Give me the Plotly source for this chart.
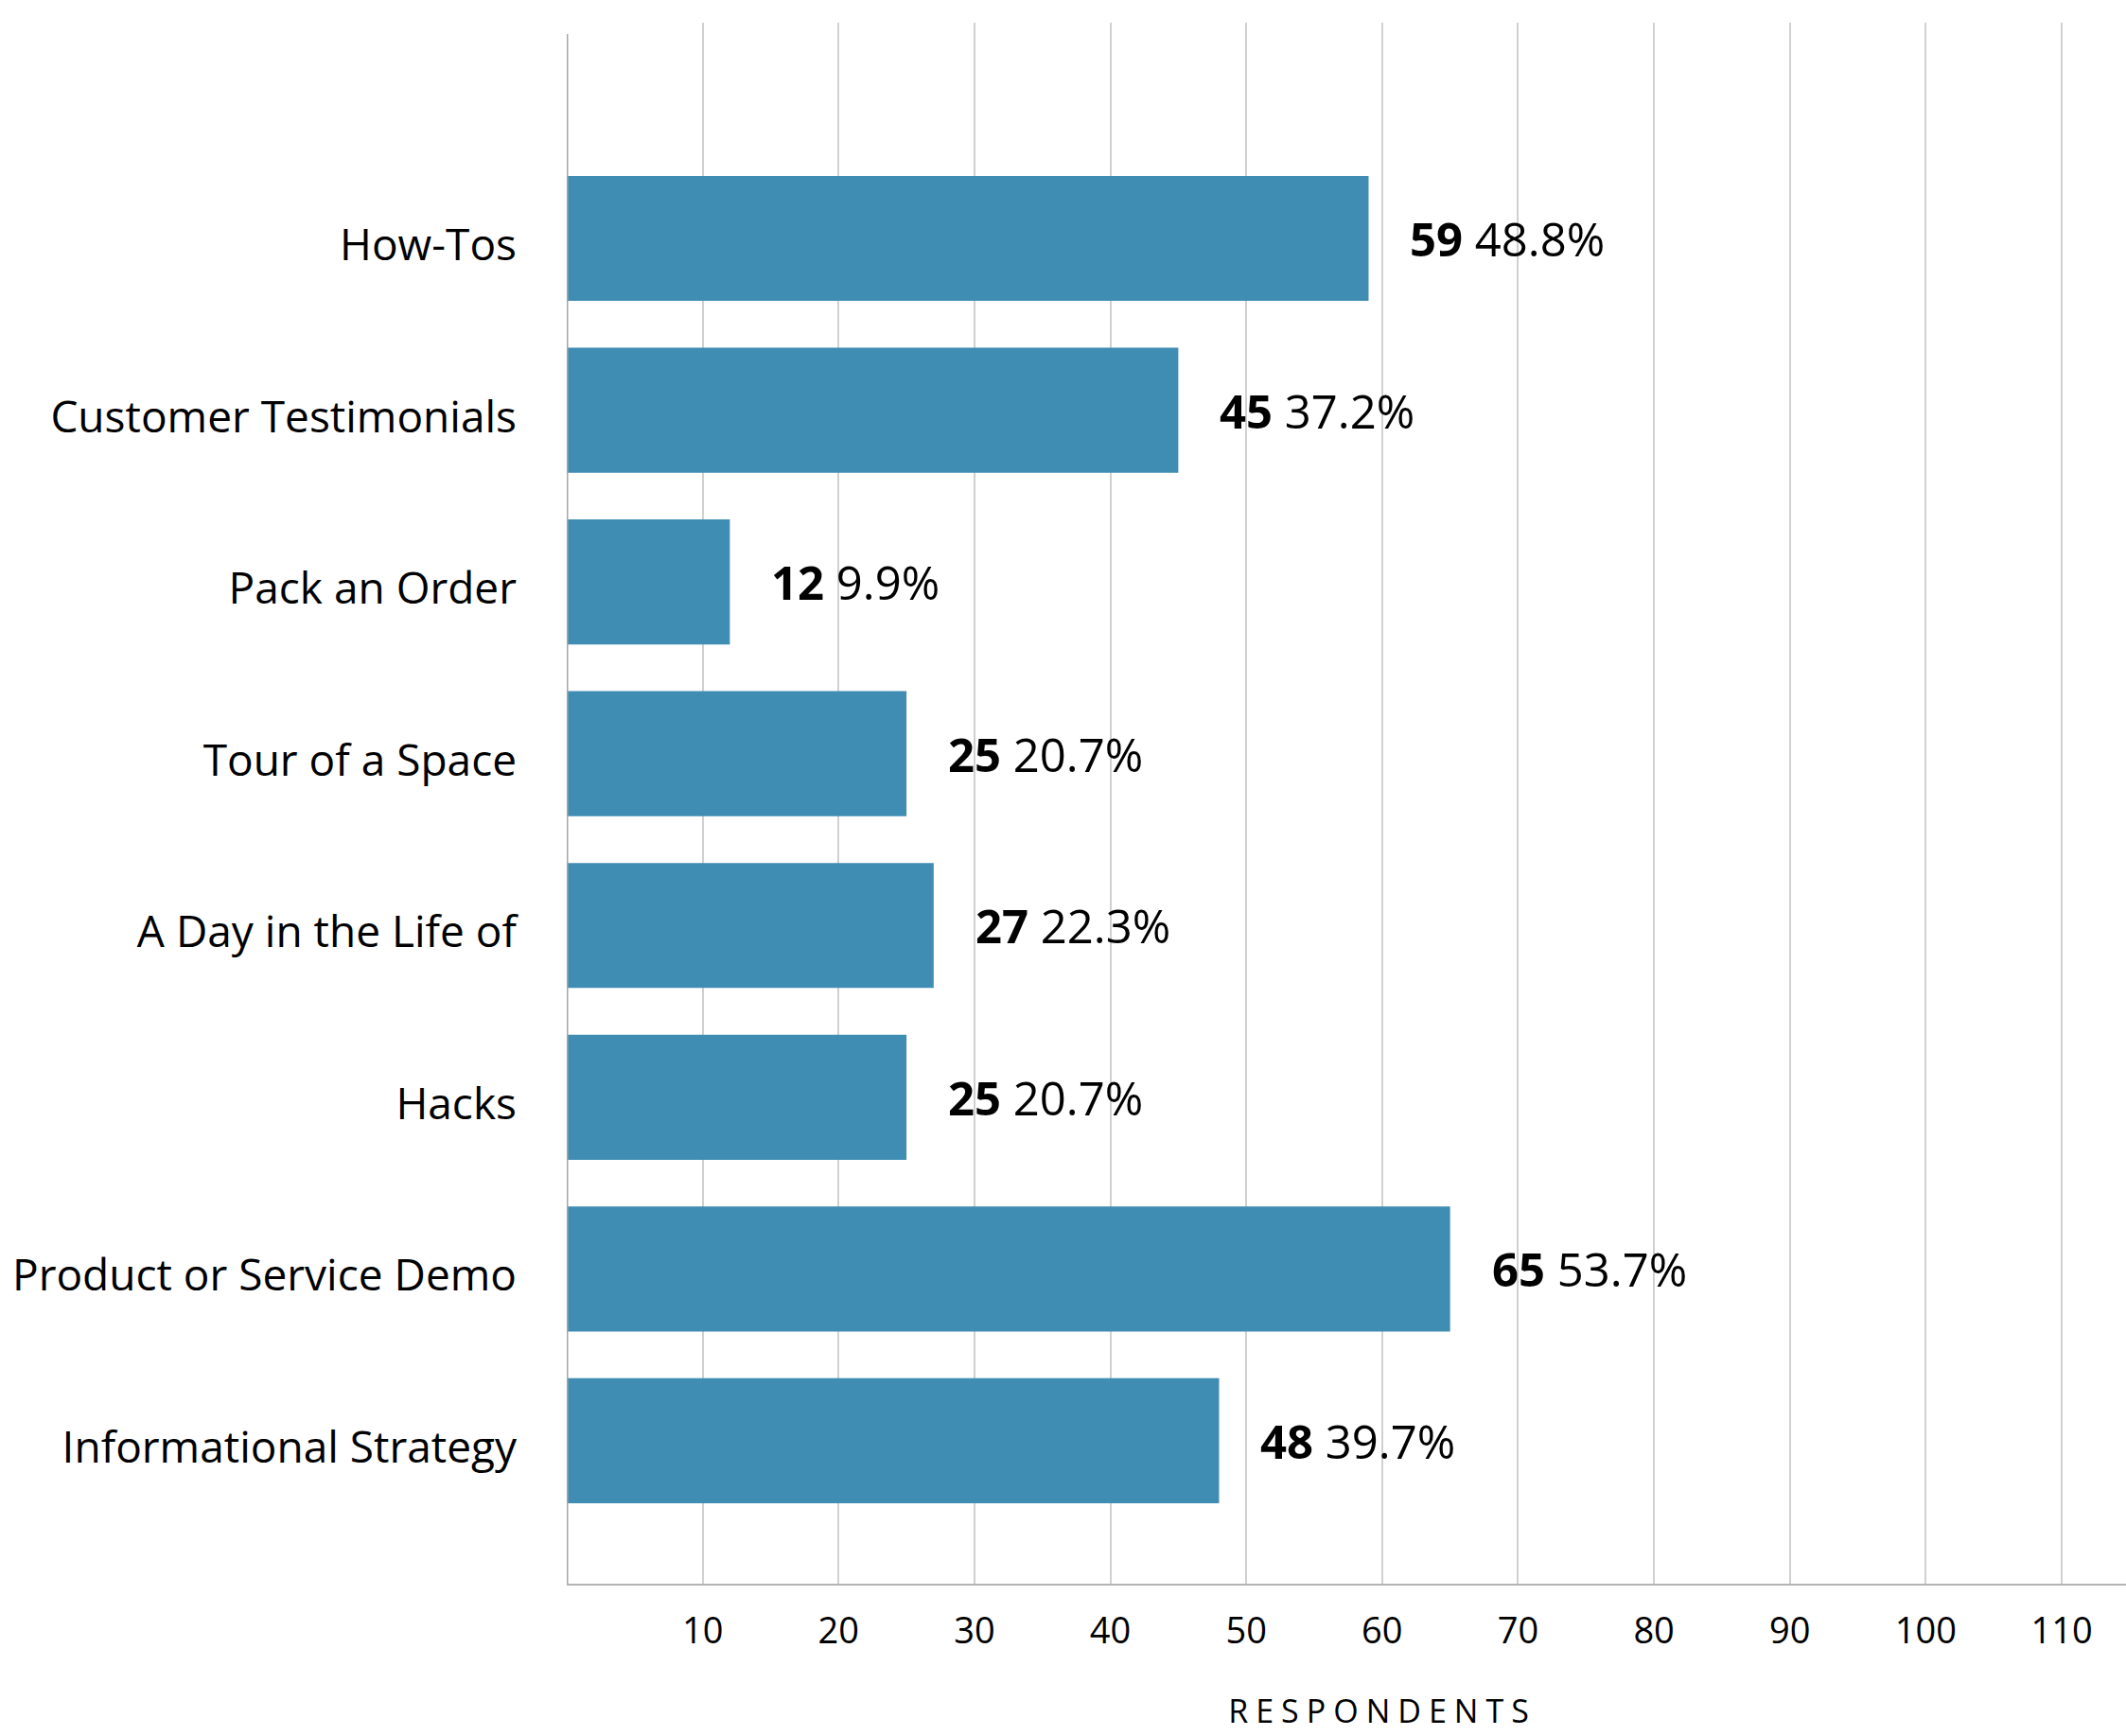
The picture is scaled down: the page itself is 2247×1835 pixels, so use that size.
import plotly.graph_objects as go

# Survey: which types of video content respondents produce
categories = [
    "How-Tos",
    "Customer Testimonials",
    "Pack an Order",
    "Tour of a Space",
    "A Day in the Life of",
    "Hacks",
    "Product or Service Demo",
    "Informational Strategy",
]
respondents = [59, 45, 12, 25, 27, 25, 65, 48]
percent_labels = ["48.8%", "37.2%", "9.9%", "20.7%", "22.3%", "20.7%", "53.7%", "39.7%"]
tick_values = [10, 20, 30, 40, 50, 60, 70, 80, 90, 100, 110]
axis_title = "RESPONDENTS"

BAR_COLOR = "#408DB3"
FONT = "Open Sans"

W, H = 2247, 1835
M_L, M_R, M_T, M_B = 599, 0, 24, 161

fig = go.Figure(
    go.Bar(
        x=respondents,
        y=categories,
        orientation="h",
        marker=dict(color=BAR_COLOR, line=dict(width=0)),
        hoverinfo="skip",
    )
)

# value labels: bold count followed by share
for cat, n, pct in zip(categories, respondents, percent_labels):
    fig.add_annotation(
        x=n,
        y=cat,
        xref="x",
        yref="y",
        text=f"<b>{n}</b> {pct}",
        showarrow=False,
        xanchor="left",
        yanchor="middle",
        xshift=42,
        font=dict(family=FONT, size=49, color="#000000"),
    )

# axis title, letter-spaced below the tick labels
fig.add_annotation(
    x=60,
    y=0,
    xref="x",
    yref="paper",
    text=axis_title,
    showarrow=False,
    xanchor="center",
    yanchor="middle",
    yshift=-134,
    width=360,
    align="center",
    font=dict(family=FONT, size=34, color="#000000"),
)

# vertical baseline at zero
fig.add_shape(
    type="line",
    xref="x",
    yref="paper",
    x0=0,
    x1=0,
    y0=0,
    y1=1 - 12 / (H - M_T - M_B),
    line=dict(color="#A6A6A6", width=3),
)

fig.update_layout(
    width=W,
    height=H,
    margin=dict(l=M_L, r=M_R, t=M_T, b=M_B, pad=0),
    paper_bgcolor="white",
    plot_bgcolor="white",
    showlegend=False,
    bargap=0.272,
    font=dict(family=FONT, color="#000000"),
    xaxis=dict(
        range=[0, (W - M_L) / 14.364],
        tickvals=tick_values,
        ticktext=[str(v) for v in tick_values],
        tickfont=dict(family=FONT, size=38, color="#000000"),
        ticks="",
        ticklabelstandoff=15,
        showgrid=True,
        gridcolor="#D0D0D0",
        gridwidth=2,
        showline=True,
        linecolor="#B3B3B3",
        linewidth=2,
        zeroline=False,
        fixedrange=True,
    ),
    yaxis=dict(
        categoryorder="array",
        categoryarray=categories,
        range=[7.832, -1.256],
        tickfont=dict(family=FONT, size=46, color="#000000"),
        ticks="",
        ticklabelstandoff=52,
        ticklabelshift=-7,
        showgrid=False,
        showline=False,
        zeroline=False,
        fixedrange=True,
    ),
)

spacing_js = """
var gd = document.getElementById('{plot_id}');
var t = gd ? gd.querySelector('.annotation[data-index="8"] text') : null;
if (t) { t.setAttribute('letter-spacing', '8px'); }
"""

fig.write_html("out.html", post_script=spacing_js, config={"displayModeBar": False})
